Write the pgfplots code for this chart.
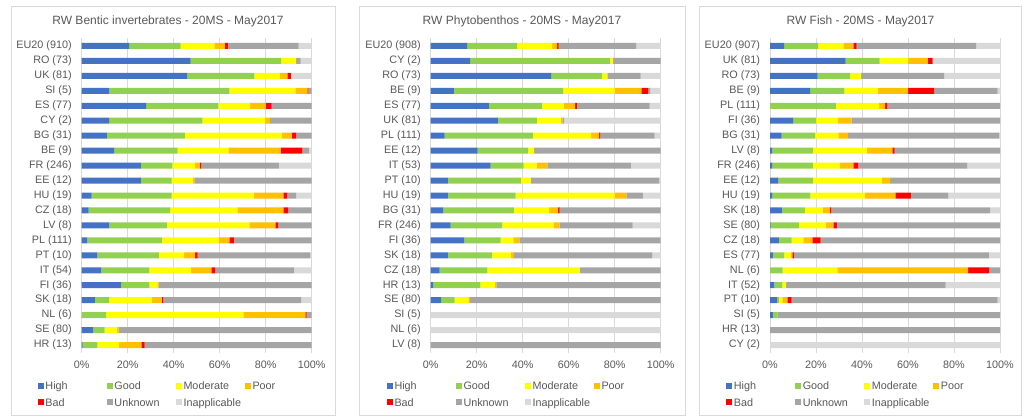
\documentclass[border=0pt]{standalone}
\usepackage{pgfplots}
\usepackage{pgfplotstable}
\pgfplotsset{compat=1.18}
\usepackage{fontspec}
\setmainfont{Liberation Sans}

\definecolor{cHigh}{HTML}{4472C4}
\definecolor{cGood}{HTML}{92D050}
\definecolor{cMod}{HTML}{FFFF00}
\definecolor{cPoor}{HTML}{FFC000}
\definecolor{cBad}{HTML}{FF0000}
\definecolor{cUnk}{HTML}{A5A5A5}
\definecolor{cInap}{HTML}{D9D9D9}
\definecolor{txt}{HTML}{595959}
\definecolor{gridc}{HTML}{D9D9D9}

% shares in % per water-body status, rows top to bottom
\pgfplotstableread{
MS   High Good Mod  Poor Bad  Unk  Inap
EU20 20.6 22.4 14.7 4.6  1.2  30.8 5.7
RO   47.4 39.3 6.5  0    0    2.0  4.8
UK   45.9 29.2 11.1 3.2  1.5  0    9.1
SI   12.0 52.2 28.7 5.2  0.5  1.4  0
ES   28.0 31.4 13.8 6.8  2.6  17.4 0
CY   11.9 40.6 27.2 2.2  0    18.1 0
BG   10.9 34.0 42.1 4.3  1.9  6.8  0
BE   14.1 27.6 22.1 22.7 9.4  2.9  1.2
FR   25.7 13.7 9.9  2.1  0.5  33.8 14.3
EE   25.7 13.4 9.2  0.7  0    51.0 0
HU   4.3  34.8 35.8 12.8 1.7  3.8  6.8
CZ   3.0  35.4 29.3 20.0 2.0  10.3 0
LV   12.0 25.0 35.9 11.3 1.2  14.6 0
PL   2.5  32.4 24.5 4.8  2.0  33.8 0
PT   6.8  26.7 11.0 4.8  1.1  48.9 0.7
IT   8.6  20.8 18.1 8.9  1.7  34.2 7.7
FI   17.0 12.4 3.5  0.5  0    66.6 0
SK   5.7  6.2  18.5 4.5  0.6  59.9 4.6
NL   0    10.6 59.7 26.9 0.6  2.2  0
SE   5.1  4.9  5.4  0.7  0    83.9 0
HR   0.4  6.4  9.4  9.7  1.5  72.6 0
}\tabA

\pgfplotstableread{
MS   High Good Mod  Poor Bad  Unk  Inap
EU20 15.8 21.8 15.2 2.2  0.6  33.8 10.6
CY   17.1 60.8 1.4  0    0    20.7 0
RO   52.4 22.0 2.4  0    0    14.5 8.7
BE   10.1 47.5 22.4 11.6 2.9  1.0  4.5
ES   25.3 23.0 9.6  4.9  0.7  31.7 4.8
UK   29.2 17.0 10.4 0.7  0    0.6  42.1
PL   6.1  38.3 25.4 3.4  0.5  23.7 2.6
EE   20.4 22.0 2.6  0    0    55.0 0
IT   26.0 14.4 5.6  4.7  0    36.3 13.0
PT   7.5  31.7 4.4  0    0    55.7 0.7
HU   7.5  29.4 43.1 5.1  0    7.2  7.7
BG   5.5  30.7 15.3 3.9  0.6  44.0 0
FR   8.7  22.4 22.4 2.6  0    31.7 12.2
FI   14.6 15.8 5.5  2.6  0    61.5 0
SK   7.5  19.1 8.1  1.5  0    60.2 3.6
CZ   3.9  20.7 40.2 0    0    35.2 0
HR   1.2  20.4 6.2  0.7  0    71.5 0
SE   4.5  5.9  6.0  0.7  0    82.9 0
SI   0    0    0    0    0    0    100
NL   0    0    0    0    0    0    100
LV   0    0    0    0    0    100  0
}\tabB

\pgfplotstableread{
MS   High Good Mod  Poor Bad  Unk  Inap
EU20 6.1  14.8 11.0 4.3  1.5  51.9 10.4
UK   32.9 14.8 12.4 8.5  2.1  0    29.3
RO   20.7 14.1 4.8  0    0    36.1 24.3
BE   17.4 14.9 14.5 13.2 11.3 27.7 1.0
PL   0    28.6 18.8 2.6  1.0  49.0 0
FI   10.0 10.1 9.5  5.9  0    64.5 0
BG   5.1  14.5 10.1 4.2  0    65.7 0.4
LV   1.0  17.6 23.4 11.2 1.0  45.8 0
FR   0.9  17.7 11.8 5.8  2.2  47.4 14.2
EE   3.6  15.0 30.1 3.5  0    47.8 0
HU   0.9  16.6 23.8 13.2 6.7  16.3 22.5
SK   5.2  10.0 7.7  3.0  0.8  69.0 4.3
SE   0.3  12.3 11.6 3.3  1.6  70.9 0
CZ   3.8  5.6  5.1  3.9  3.6  78.0 0
ES   1.2  4.9  3.0  0.6  0.7  84.8 4.8
NL   0    5.5  23.8 56.8 9.3  4.6  0
IT   1.9  3.5  1.6  0    0    69.4 23.6
PT   3.2  0.7  1.5  2.1  1.9  89.6 1.0
SI   1.2  2.1  0    0    0    96.7 0
HR   0    0    0    0    0    100  0
CY   0    0    0    0    0    0    100
}\tabC

\newcommand\LE[1]{\makebox[60pt][l]{\strut #1}}

\pgfplotsset{
  rwpanel/.style={
    xbar stacked,
    scale only axis, width=230pt, height=314pt,
    xmin=0, xmax=100, ymin=-0.5, ymax=20.5,
    bar width=6pt,
    xtick={0,20,...,100},
    xticklabels={0\%,20\%,40\%,60\%,80\%,100\%},
    ytick={0,...,20},
    xmajorgrids, grid style={draw=gridc, line width=0.6pt},
    axis line style={draw=none}, major tick length=0pt,
    tick label style={font=\fontsize{10.8}{13}\selectfont, text=txt},
    yticklabel style={xshift=-6.5pt},
    xticklabel style={yshift=-5pt},
    /pgf/number format/assume math mode=true,
    every axis plot/.append style={draw=none},
    legend columns=4,
    legend image code/.code={\fill[##1] (0pt,-3pt) rectangle (6pt,3pt);},
    legend style={draw=none, fill=none, inner sep=0pt, outer sep=0pt,
      at={(axis description cs:-0.19,-0.084)}, anchor=north west,
      nodes={inner sep=1.5pt}, row sep=2.2pt, column sep=0pt,
      font=\fontsize{10.8}{13.6}\selectfont, text=txt},
  },
}

\newcommand\stack[1]{%
  \addplot[fill=cHigh] table[x=High, y expr=20-\coordindex] {#1};
  \addplot[fill=cGood] table[x=Good, y expr=20-\coordindex] {#1};
  \addplot[fill=cMod]  table[x=Mod,  y expr=20-\coordindex] {#1};
  \addplot[fill=cPoor] table[x=Poor, y expr=20-\coordindex] {#1};
  \addplot[fill=cBad]  table[x=Bad,  y expr=20-\coordindex] {#1};
  \addplot[fill=cUnk]  table[x=Unk,  y expr=20-\coordindex] {#1};
  \addplot[fill=cInap] table[x=Inap, y expr=20-\coordindex] {#1};
  \legend{\LE{High},\LE{Good},\LE{Moderate},\LE{Poor},\LE{Bad},\LE{Unknown},\LE{Inapplicable}}
}

\begin{document}
\begin{tikzpicture}
\useasboundingbox[fill=white] (0pt,-419pt) rectangle (1024pt,0pt);

% panel frames
\draw[gridc, line width=0.75pt] (11pt,-6pt) rectangle (335pt,-415pt);
\draw[gridc, line width=0.75pt] (359pt,-6pt) rectangle (685pt,-415pt);
\draw[gridc, line width=0.75pt] (699pt,-6pt) rectangle (1021pt,-415pt);

% titles
\begin{scope}[every node/.style={font=\fontsize{12}{14}\selectfont, text=txt}]
\node at (168pt,-21.7pt) {RW Bentic invertebrates - 20MS - May2017};
\node at (522pt,-21.7pt) {RW Phytobenthos - 20MS - May2017};
\node at (860.5pt,-21.7pt) {RW Fish - 20MS - May2017};
\end{scope}

\begin{axis}[rwpanel, at={(81.7pt,-352.5pt)}, anchor=south west,
  yticklabels={HR (13),SE (80),NL (6),SK (18),FI (36),IT (54),PT (10),PL (111),LV (8),CZ (18),HU (19),EE (12),FR (246),BE (9),BG (31),CY (2),ES (77),SI (5),UK (81),RO (73),EU20 (910)}]
\stack{\tabA}
\end{axis}

\begin{axis}[rwpanel, at={(430.7pt,-352.5pt)}, anchor=south west,
  yticklabels={LV (8),NL (6),SI (5),SE (80),HR (13),CZ (18),SK (18),FI (36),FR (246),BG (31),HU (19),PT (10),IT (53),EE (12),PL (111),UK (81),ES (77),BE (9),RO (73),CY (2),EU20 (908)}]
\stack{\tabB}
\end{axis}

\begin{axis}[rwpanel, at={(770pt,-352.5pt)}, anchor=south west,
  yticklabels={CY (2),HR (13),SI (5),PT (10),IT (52),NL (6),ES (77),CZ (18),SE (80),SK (18),HU (19),EE (12),FR (246),LV (8),BG (31),FI (36),PL (111),BE (9),RO (73),UK (81),EU20 (907)}]
\stack{\tabC}
\end{axis}
\end{tikzpicture}
\end{document}
